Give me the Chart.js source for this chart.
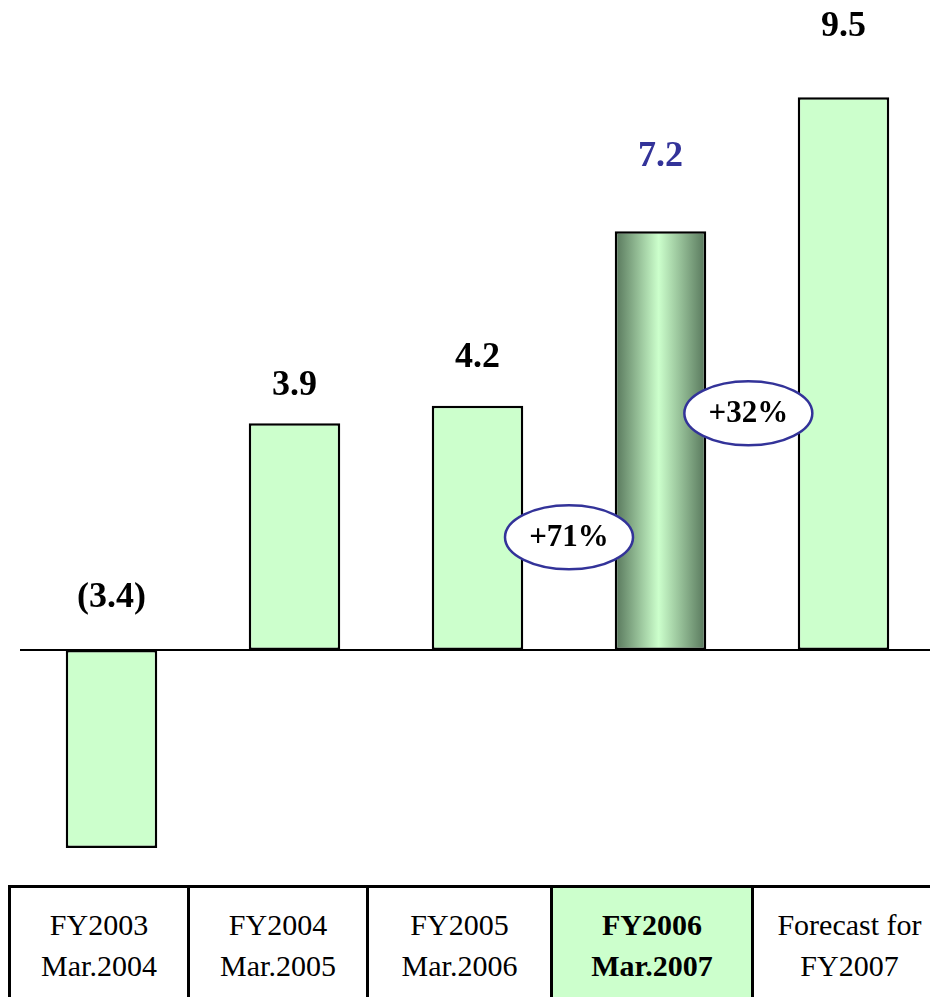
<!DOCTYPE html>
<html>
<head>
<meta charset="utf-8">
<script src="https://cdn.jsdelivr.net/npm/chart.js@4/dist/chart.umd.min.js"></script>
<style>
  html, body { margin: 0; padding: 0; background: #fff; overflow: hidden; }
  #wrap { position: relative; width: 1000px; height: 997px; }
  #grafico-box { position: absolute; left: 0; top: 0; width: 940px; height: 880px; }
  #tabela {
    position: absolute; left: 8px; top: 885px;
    border-collapse: collapse; table-layout: fixed;
    font-family: "Liberation Serif", "Times New Roman", serif;
    font-size: 30px; line-height: 41px; color: #000;
  }
  #tabela td {
    border: 3px solid #000; text-align: center; vertical-align: top;
    padding: 16px 0 30px 0; white-space: nowrap; overflow: hidden;
  }
  #tabela td.destaque { background: #ccffcc; font-weight: bold; }
</style>
</head>
<body>
<div id="wrap">
  <div id="grafico-box"><canvas id="grafico"></canvas></div>
  <table id="tabela"><colgroup id="colunas"></colgroup><tr id="linha"></tr></table>
</div>
<script>
// categorias (duas linhas cada) e valores
const periodos = ['FY2003', 'FY2004', 'FY2005', 'FY2006', 'Forecast for'];
const fechamentos = ['Mar.2004', 'Mar.2005', 'Mar.2006', 'Mar.2007', 'FY2007'];
const valores = [-3.4, 3.9, 4.2, 7.2, 9.5];
const destaque = 3;

// balões de crescimento: texto, posição entre barras (índice) e altura (valor)
const crescimentos = ['+71%', '+32%'];
const crescimentoX = [2.5, 3.48];
const crescimentoY = [1.94, 4.07];

// distância do rótulo acima do topo da barra (px)
const elevacaoRotulo = [52, 37, 48, 74, 71];
const larguraColunas = [179, 179, 184, 201, 194];

const VERDE = '#ccffcc';
const AZUL = '#333399';
const FONTE = '"Liberation Serif", "Times New Roman", serif';

function formatar(v) {
  return v < 0 ? '(' + Math.abs(v).toFixed(1) + ')' : v.toFixed(1);
}

// tabela de categorias abaixo do gráfico
const tabela = document.getElementById('tabela');
const colunas = document.getElementById('colunas');
const linha = document.getElementById('linha');
tabela.style.width = larguraColunas.reduce((a, b) => a + b, 0) + 'px';
periodos.forEach((p, i) => {
  const col = document.createElement('col');
  col.style.width = larguraColunas[i] + 'px';
  colunas.appendChild(col);
  const td = document.createElement('td');
  if (i === destaque) td.className = 'destaque';
  td.innerHTML = p + '<br>' + fechamentos[i];
  linha.appendChild(td);
});

function preenchimento(ctx) {
  if (ctx.dataIndex !== destaque) return VERDE;
  const chart = ctx.chart;
  const x = chart.scales.x;
  if (!chart.chartArea || !x) return VERDE;
  const centro = x.getPixelForValue(destaque);
  const meia = (x.width / valores.length) * 0.25;
  const g = chart.ctx.createLinearGradient(centro - meia, 0, centro + meia, 0);
  g.addColorStop(0, '#56755a');
  g.addColorStop(0.48, '#ccffcc');
  g.addColorStop(1, '#56755a');
  return g;
}

const rotulos = {
  id: 'rotulos',
  afterDatasetsDraw(chart) {
    const c = chart.ctx;
    const x = chart.scales.x;
    const y = chart.scales.y;
    const zero = y.getPixelForValue(0);

    // linha do zero
    c.save();
    c.strokeStyle = '#000';
    c.lineWidth = 2;
    c.beginPath();
    c.moveTo(chart.chartArea.left, zero);
    c.lineTo(chart.chartArea.right, zero);
    c.stroke();

    // valores acima das barras
    c.font = 'bold 36px ' + FONTE;
    c.textAlign = 'center';
    c.textBaseline = 'middle';
    valores.forEach((v, i) => {
      const topo = y.getPixelForValue(Math.max(v, 0));
      c.fillStyle = i === destaque ? AZUL : '#000';
      c.fillText(formatar(v), x.getPixelForValue(i), topo - elevacaoRotulo[i]);
    });

    // balões de crescimento
    crescimentos.forEach((t, i) => {
      const cx = x.getPixelForValue(crescimentoX[i]);
      const cy = y.getPixelForValue(crescimentoY[i]);
      c.beginPath();
      c.ellipse(cx, cy, 64, 32, 0, 0, Math.PI * 2);
      c.fillStyle = '#fff';
      c.fill();
      c.lineWidth = 2.5;
      c.strokeStyle = AZUL;
      c.stroke();
      c.fillStyle = '#000';
      c.font = 'bold 31px ' + FONTE;
      c.fillText(t, cx, cy + 1);
    });
    c.restore();
  }
};

new Chart(document.getElementById('grafico'), {
  type: 'bar',
  data: {
    labels: periodos,
    datasets: [{
      data: valores,
      backgroundColor: preenchimento,
      borderColor: '#000',
      borderWidth: 2.5,
      borderSkipped: false,
      categoryPercentage: 1,
      barPercentage: 0.5
    }]
  },
  options: {
    responsive: true,
    maintainAspectRatio: false,
    animation: false,
    layout: { padding: { left: 20, right: 5, top: 10, bottom: 20.4 } },
    plugins: { legend: { display: false }, tooltip: { enabled: false } },
    scales: {
      x: { display: false },
      y: { display: false, min: -3.6, max: 11 }
    }
  },
  plugins: [rotulos]
});
</script>
</body>
</html>
